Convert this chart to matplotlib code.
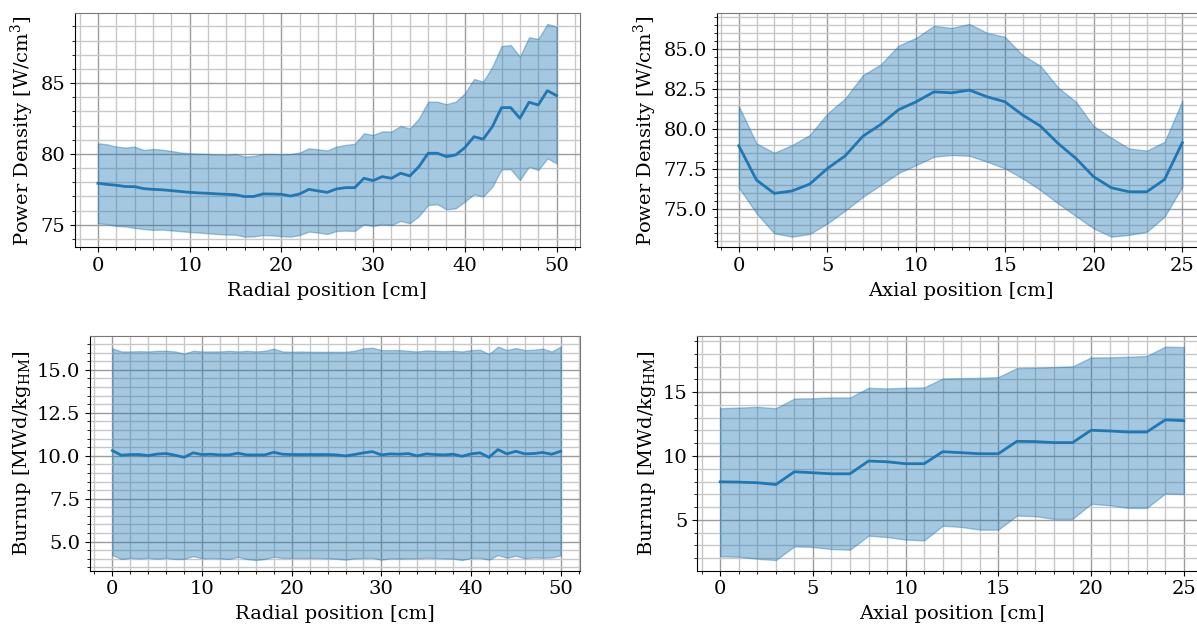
import numpy as np
import matplotlib
matplotlib.use("Agg")
import matplotlib.pyplot as plt
from matplotlib.ticker import AutoMinorLocator

plt.rcParams['font.family'] = 'DejaVu Serif'
plt.rcParams['mathtext.fontset'] = 'dejavuserif'
plt.rcParams['font.size'] = 14

# radial power density (mean and band)
radial_x = list(range(51))
radial_pd_mean = [77.93, 77.85, 77.79, 77.70, 77.69, 77.55, 77.50, 77.47, 77.41, 77.35,
                  77.29, 77.25, 77.22, 77.18, 77.15, 77.12, 76.99, 77.00, 77.18, 77.17,
                  77.15, 77.03, 77.18, 77.50, 77.39, 77.29, 77.53, 77.62, 77.62, 78.28,
                  78.12, 78.40, 78.28, 78.64, 78.45, 79.11, 80.05, 80.05, 79.81, 79.93,
                  80.45, 81.22, 81.04, 81.93, 83.27, 83.27, 82.52, 83.65, 83.46, 84.47,
                  84.12]
radial_pd_hi = [80.75, 80.68, 80.52, 80.45, 80.52, 80.28, 80.35, 80.30, 80.21, 80.10,
                80.05, 80.02, 80.00, 79.95, 79.93, 80.00, 79.81, 79.85, 80.00, 80.00,
                79.98, 80.00, 80.10, 80.40, 80.33, 80.24, 80.52, 80.64, 80.71, 81.46,
                81.34, 81.60, 81.58, 81.98, 81.79, 82.52, 83.69, 83.69, 83.51, 83.69,
                84.28, 85.29, 85.11, 86.16, 87.62, 87.69, 86.87, 88.24, 88.12, 89.18,
                88.99]
radial_pd_lo = [75.10, 75.05, 74.92, 74.88, 74.78, 74.70, 74.64, 74.66, 74.60, 74.55,
                74.49, 74.45, 74.40, 74.35, 74.31, 74.30, 74.16, 74.18, 74.28, 74.25,
                74.20, 74.16, 74.28, 74.52, 74.45, 74.35, 74.56, 74.59, 74.56, 75.04,
                74.92, 75.06, 74.99, 75.27, 75.11, 75.62, 76.40, 76.45, 76.09, 76.16,
                76.64, 77.15, 76.99, 77.69, 78.92, 78.92, 78.16, 79.11, 78.87, 79.69,
                79.34]

# axial power density
axial_x = list(range(26))
axial_pd_mean = [78.96, 76.81, 75.98, 76.13, 76.56, 77.54, 78.33, 79.56, 80.29, 81.21,
                 81.71, 82.33, 82.27, 82.44, 82.02, 81.71, 80.88, 80.19, 79.10, 78.17,
                 77.02, 76.33, 76.08, 76.08, 76.85, 79.15]
axial_pd_hi = [81.44, 79.10, 78.52, 79.00, 79.63, 80.98, 81.92, 83.38, 84.04, 85.22,
               85.71, 86.46, 86.33, 86.58, 86.02, 85.77, 84.63, 83.96, 82.60, 81.71,
               80.19, 79.46, 78.79, 78.65, 79.21, 81.77]
axial_pd_lo = [76.35, 74.73, 73.48, 73.27, 73.44, 74.10, 74.90, 75.77, 76.50, 77.25,
               77.75, 78.27, 78.38, 78.33, 77.96, 77.54, 76.92, 76.19, 75.35, 74.56,
               73.79, 73.27, 73.38, 73.58, 74.52, 76.40]

# radial burnup
radial_bu_mean = [10.30, 10.03, 10.07, 10.07, 10.01, 10.10, 10.13, 10.03, 9.91, 10.17,
                  10.07, 10.09, 10.05, 10.05, 10.15, 10.05, 10.05, 10.05, 10.20, 10.09,
                  10.07, 10.07, 10.07, 10.07, 10.07, 10.05, 9.99, 10.07, 10.17, 10.24,
                  10.05, 10.11, 10.09, 10.13, 9.99, 10.11, 10.07, 10.05, 10.09, 9.97,
                  10.11, 10.17, 9.91, 10.36, 10.11, 10.26, 10.11, 10.13, 10.19, 10.09,
                  10.26]
radial_bu_hi = [16.25, 16.07, 16.07, 16.09, 16.07, 16.11, 16.11, 16.07, 15.94, 16.11,
                16.07, 16.07, 16.07, 16.11, 16.07, 16.11, 16.07, 16.11, 16.23, 16.07,
                16.05, 16.07, 16.05, 16.05, 16.05, 16.05, 16.05, 16.11, 16.25, 16.29,
                16.15, 16.15, 16.15, 16.11, 16.07, 16.13, 16.11, 16.09, 16.11, 16.07,
                16.15, 16.17, 15.92, 16.35, 16.15, 16.27, 16.15, 16.17, 16.23, 16.07,
                16.35]
radial_bu_lo = [4.22, 3.99, 4.06, 4.03, 4.06, 4.01, 4.06, 3.99, 3.99, 4.16,
                4.03, 4.05, 4.03, 3.99, 4.12, 3.99, 3.93, 3.99, 4.12, 4.05,
                4.05, 4.05, 4.05, 4.05, 4.03, 4.01, 3.95, 4.03, 4.05, 4.06,
                3.95, 4.03, 4.01, 4.03, 4.03, 4.06, 4.05, 4.03, 4.01, 3.93,
                4.05, 4.06, 3.95, 4.22, 4.06, 4.18, 4.03, 4.08, 4.06, 4.08,
                4.20]

# axial burnup
axial_bu_mean = [7.98, 7.96, 7.91, 7.77, 8.77, 8.69, 8.61, 8.61, 9.61, 9.55,
                 9.40, 9.40, 10.34, 10.26, 10.18, 10.18, 11.15, 11.13, 11.05, 11.05,
                 12.02, 11.96, 11.88, 11.88, 12.83, 12.77]
axial_bu_hi = [13.74, 13.79, 13.85, 13.74, 14.50, 14.52, 14.58, 14.58, 15.34, 15.29,
               15.34, 15.37, 16.07, 16.10, 16.12, 16.18, 16.88, 16.91, 16.96, 17.02,
               17.72, 17.72, 17.77, 17.83, 18.56, 18.53]
axial_bu_lo = [2.15, 2.12, 1.96, 1.86, 2.93, 2.88, 2.72, 2.67, 3.77, 3.66,
               3.46, 3.40, 4.55, 4.45, 4.24, 4.24, 5.34, 5.29, 5.08, 5.08,
               6.26, 6.15, 5.94, 5.94, 7.07, 7.02]

W, H = 1197, 624
fig = plt.figure(figsize=(W / 100, H / 100), dpi=100)


def make_axes(x0, x1, ytop, ybot):
    return fig.add_axes([x0 / W, 1 - ybot / H, (x1 - x0) / W, (ybot - ytop) / H])


def panel(ax, x, mean, lo, hi, xlabel, ylabel):
    ax.set_axisbelow(True)
    ax.fill_between(x, lo, hi, color='#1f77b4', alpha=0.4)
    ax.plot(x, mean, color='#1f77b4', lw=2)
    ax.xaxis.set_minor_locator(AutoMinorLocator())
    ax.yaxis.set_minor_locator(AutoMinorLocator())
    ax.grid(which='major', color='#9c9c9c', lw=1.0)
    ax.grid(which='minor', color='#c8c8c8', lw=1.0)
    ax.set_xlabel(xlabel, labelpad=5)
    ax.set_ylabel(ylabel, labelpad=3)
    for side in ('top', 'right'):
        ax.spines[side].set_color('#777777')
    ax.tick_params(which='both', top=False, right=False)


ax1 = make_axes(75, 579.5, 13.3, 247.3)
panel(ax1, radial_x, radial_pd_mean, radial_pd_lo, radial_pd_hi,
      'Radial position [cm]', 'Power Density [W/cm$^3$]')

ax2 = make_axes(716.6, 1204.5, 13.3, 247.3)
panel(ax2, axial_x, axial_pd_mean, axial_pd_lo, axial_pd_hi,
      'Axial position [cm]', 'Power Density [W/cm$^3$]')
ax2.set_yticks([75.0, 77.5, 80.0, 82.5, 85.0])

ax3 = make_axes(90, 579.5, 336, 570.7)
panel(ax3, radial_x, radial_bu_mean, radial_bu_lo, radial_bu_hi,
      'Radial position [cm]', r'Burnup [MWd/kg$_\mathrm{HM}$]')
ax3.set_xlim(-2.5, 52.1)

ax4 = make_axes(697, 1207, 336, 570.7)
panel(ax4, axial_x, axial_bu_mean, axial_bu_lo, axial_bu_hi,
      'Axial position [cm]', r'Burnup [MWd/kg$_\mathrm{HM}$]')

fig.savefig('out.png', dpi=100)
